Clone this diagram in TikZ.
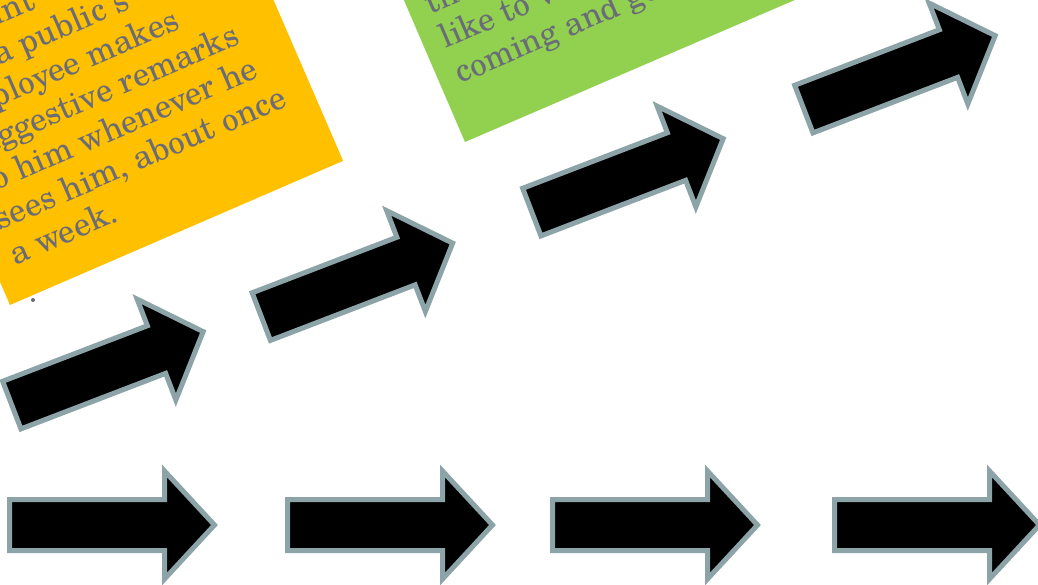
\documentclass[tikz,border=0pt]{standalone}
\usepackage{fontspec}
\setmainfont{TeX Gyre Schola}
\definecolor{arrowgray}{RGB}{140,164,168}
\definecolor{orangefill}{RGB}{255,192,0}
\definecolor{greenfill}{RGB}{146,208,80}
\definecolor{textgray}{RGB}{106,108,120}
\tikzset{
  arrowshape/.style={fill=black, draw=arrowgray, line width=5pt, line join=miter},
  pics/bigarrow/.style={code={
    \draw[arrowshape] (0,-25.5) -- (155,-25.5) -- (155,-54) -- (205,0) -- (155,54) -- (155,25.5) -- (0,25.5) -- cycle;}},
  boxtext/.style={transform shape, anchor=base west, inner sep=0pt, text=textgray,
    font=\fontsize{33}{38}\selectfont},
}
\begin{document}
\begin{tikzpicture}[x=1pt,y=-1pt]
\useasboundingbox (0,0) rectangle (1038,585);
\clip (0,0) rectangle (1038,585);
\fill[white] (0,0) rectangle (1038,585);
% orange text box
\begin{scope}[shift={(10,305)}, rotate=23.4, y=1pt]
  \fill[orangefill] (0,0) coordinate (obox) rectangle (363,340);
  \node[boxtext] (o1) at (20,34)  {a week.};
  \node[boxtext] (o2) at (20,72)  {sees him, about once};
  \node[boxtext] (o3) at (20,110) {to him whenever he};
  \node[boxtext] (o4) at (20,148) {suggestive remarks};
  \node[boxtext] (o5) at (20,186) {employee makes};
  \node[boxtext] (o6) at (84,224) {a public s};
  \node[boxtext] (o7) at (99,262) {int};
\end{scope}
% green text box
\begin{scope}[shift={(465,142)}, rotate=23.3, y=1pt]
  \fill[greenfill] (0,0) coordinate (gbox) rectangle (363,340);
  \node[boxtext] (g1) at (19,55)  {coming and go};
  \node[boxtext] (g2) at (19,93)  {like to v};
  \node[boxtext] (g3) at (19,131) {th};
\end{scope}
\fill[textgray] (33,300) circle (2);
% rising arrows
\pic[rotate=21] (r1) at (11.8,405.1) {bigarrow};
\pic[rotate=21] (r2) at (261.3,316.6) {bigarrow};
\pic[rotate=21] (r3) at (531.8,212.1) {bigarrow};
\pic[rotate=21] (r4) at (803.8,109.1) {bigarrow};
% horizontal arrows
\pic (h1) at (9.5,525) {bigarrow};
\pic (h2) at (287.5,525) {bigarrow};
\pic (h3) at (552.5,525) {bigarrow};
\pic (h4) at (834.5,525) {bigarrow};
\end{tikzpicture}
\end{document}
